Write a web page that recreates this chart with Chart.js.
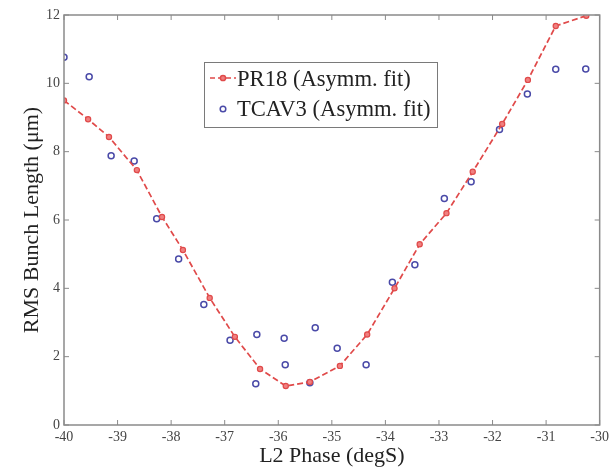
<!DOCTYPE html>
<html>
<head>
<meta charset="utf-8">
<script src="https://cdn.jsdelivr.net/npm/chart.js@4/dist/chart.umd.min.js"></script>
<style>
  html, body { margin: 0; padding: 0; background: #fff; }
  #wrap { width: 613px; height: 471px; position: relative; }
</style>
</head>
<body>
<div id="wrap"><canvas id="chart"></canvas></div>
<script>
// ── Data: bunch length vs L2 phase ───────────────────────────────
const pr18Phase = [-40, -39.55, -39.16, -38.64, -38.17, -37.78, -37.28, -36.81, -36.34, -35.86,
                   -35.41, -34.85, -34.34, -33.83, -33.36, -32.86, -32.37, -31.82, -31.34, -30.82, -30.25];
const pr18Len   = [9.5, 8.95, 8.43, 7.46, 6.09, 5.12, 3.72, 2.58, 1.64, 1.14,
                   1.26, 1.73, 2.65, 4.0, 5.29, 6.2, 7.41, 8.81, 10.1, 11.68, 11.98];

const tcavPhase = [-40, -39.53, -39.12, -38.69, -38.27, -37.86, -37.39, -36.9, -36.4, -36.42,
                   -35.89, -35.87, -35.41, -35.31, -34.9, -34.36, -33.87, -33.45, -32.9, -32.4,
                   -31.87, -31.35, -30.82, -30.26];
const tcavLen   = [10.76, 10.19, 7.88, 7.73, 6.04, 4.86, 3.53, 2.48, 2.65, 1.21,
                   2.54, 1.76, 1.24, 2.85, 2.25, 1.76, 4.18, 4.69, 6.63, 7.12,
                   8.65, 9.69, 10.41, 10.42];

const xTicks = [-40, -39, -38, -37, -36, -35, -34, -33, -32, -31, -30];
const yTicks = [0, 2, 4, 6, 8, 10, 12];

const RED  = '#e04a4a';
const BLUE = '#4a4aa8';
const AXIS = '#8a8a8a';
const SERIF = '"Liberation Serif", "DejaVu Serif", serif';

const toPts = (xs, ys) => xs.map((x, i) => ({ x, y: ys[i] }));

// Box frame + inward ticks on all four sides, plus the in-plot legend
const framePlugin = {
  id: 'frame',
  afterDraw(chart) {
    const { ctx, chartArea: a, scales } = chart;
    ctx.save();
    ctx.strokeStyle = AXIS;
    ctx.lineWidth = 1.5;
    ctx.strokeRect(a.left, a.top, a.right - a.left, a.bottom - a.top);
    ctx.lineWidth = 1;
    ctx.beginPath();
    xTicks.forEach(v => {
      const x = scales.x.getPixelForValue(v);
      ctx.moveTo(x, a.bottom); ctx.lineTo(x, a.bottom - 5);
      ctx.moveTo(x, a.top);    ctx.lineTo(x, a.top + 5);
    });
    yTicks.forEach(v => {
      const y = scales.y.getPixelForValue(v);
      ctx.moveTo(a.left, y);  ctx.lineTo(a.left + 5, y);
      ctx.moveTo(a.right, y); ctx.lineTo(a.right - 5, y);
    });
    ctx.stroke();

    // legend box
    const lx = 204, ly = 62, lw = 233, lh = 65;
    ctx.fillStyle = '#fff';
    ctx.fillRect(lx, ly, lw, lh);
    ctx.strokeStyle = '#7a7a7a';
    ctx.lineWidth = 1;
    ctx.strokeRect(lx + 0.5, ly + 0.5, lw, lh);

    ctx.font = '22.6px ' + SERIF;
    ctx.textBaseline = 'middle';
    ctx.textAlign = 'left';
    ctx.fillStyle = '#222';

    // row 1: dashed line with marker
    const r1 = 78;
    ctx.strokeStyle = RED;
    ctx.lineWidth = 1.5;
    ctx.setLineDash([5, 3]);
    ctx.beginPath(); ctx.moveTo(210, r1); ctx.lineTo(236, r1); ctx.stroke();
    ctx.setLineDash([]);
    ctx.beginPath(); ctx.arc(223, r1, 2.6, 0, Math.PI * 2);
    ctx.fillStyle = '#f08080'; ctx.fill(); ctx.stroke();
    ctx.fillStyle = '#222';
    ctx.fillText('PR18 (Asymm. fit)', 237, r1 + 2);

    // row 2: open circle
    const r2 = 109;
    ctx.strokeStyle = BLUE;
    ctx.lineWidth = 1.5;
    ctx.beginPath(); ctx.arc(223, r2, 2.8, 0, Math.PI * 2); ctx.stroke();
    ctx.fillText('TCAV3 (Asymm. fit)', 237, r2 + 1);
    ctx.restore();
  },
};

const noGrid = { display: true, drawOnChartArea: false, drawTicks: false, color: 'rgba(0,0,0,0)' };

new Chart(document.getElementById('chart').getContext('2d'), {
  type: 'scatter',
  data: {
    datasets: [
      {
        label: 'PR18 (Asymm. fit)',
        data: toPts(pr18Phase, pr18Len),
        showLine: true,
        borderColor: RED,
        borderWidth: 1.7,
        borderDash: [6, 3],
        pointRadius: 2.6,
        pointBackgroundColor: '#f08080',
        pointBorderColor: RED,
        pointBorderWidth: 1.2,
        tension: 0,
      },
      {
        label: 'TCAV3 (Asymm. fit)',
        data: toPts(tcavPhase, tcavLen),
        showLine: false,
        pointRadius: 3,
        pointBackgroundColor: 'rgba(0,0,0,0)',
        pointBorderColor: BLUE,
        pointBorderWidth: 1.5,
      },
    ],
  },
  options: {
    responsive: true,
    maintainAspectRatio: false,
    animation: false,
    layout: { padding: { top: 15, right: 13, left: 0, bottom: 0 } },
    plugins: { legend: { display: false }, tooltip: { enabled: false } },
    scales: {
      x: {
        type: 'linear', min: -40, max: -30,
        afterBuildTicks: s => { s.ticks = xTicks.map(v => ({ value: v })); },
        afterFit: s => { s.height = 46; },
        ticks: { color: '#444', font: { family: SERIF, size: 14 }, padding: 4, maxRotation: 0 },
        grid: noGrid,
        border: { display: false },
        title: { display: true, text: 'L2 Phase (degS)', color: '#222', font: { family: SERIF, size: 22 }, padding: { top: 0, bottom: 2 } },
      },
      y: {
        type: 'linear', min: 0, max: 12,
        afterBuildTicks: s => { s.ticks = yTicks.map(v => ({ value: v })); },
        afterFit: s => { s.width = 64; },
        ticks: { color: '#444', font: { family: SERIF, size: 14 }, padding: 4 },
        grid: noGrid,
        border: { display: false },
        title: { display: true, text: 'RMS Bunch Length (μm)', color: '#222', font: { family: SERIF, size: 22 }, padding: { top: 19, bottom: 0 } },
      },
    },
  },
  plugins: [framePlugin],
});
</script>
</body>
</html>
